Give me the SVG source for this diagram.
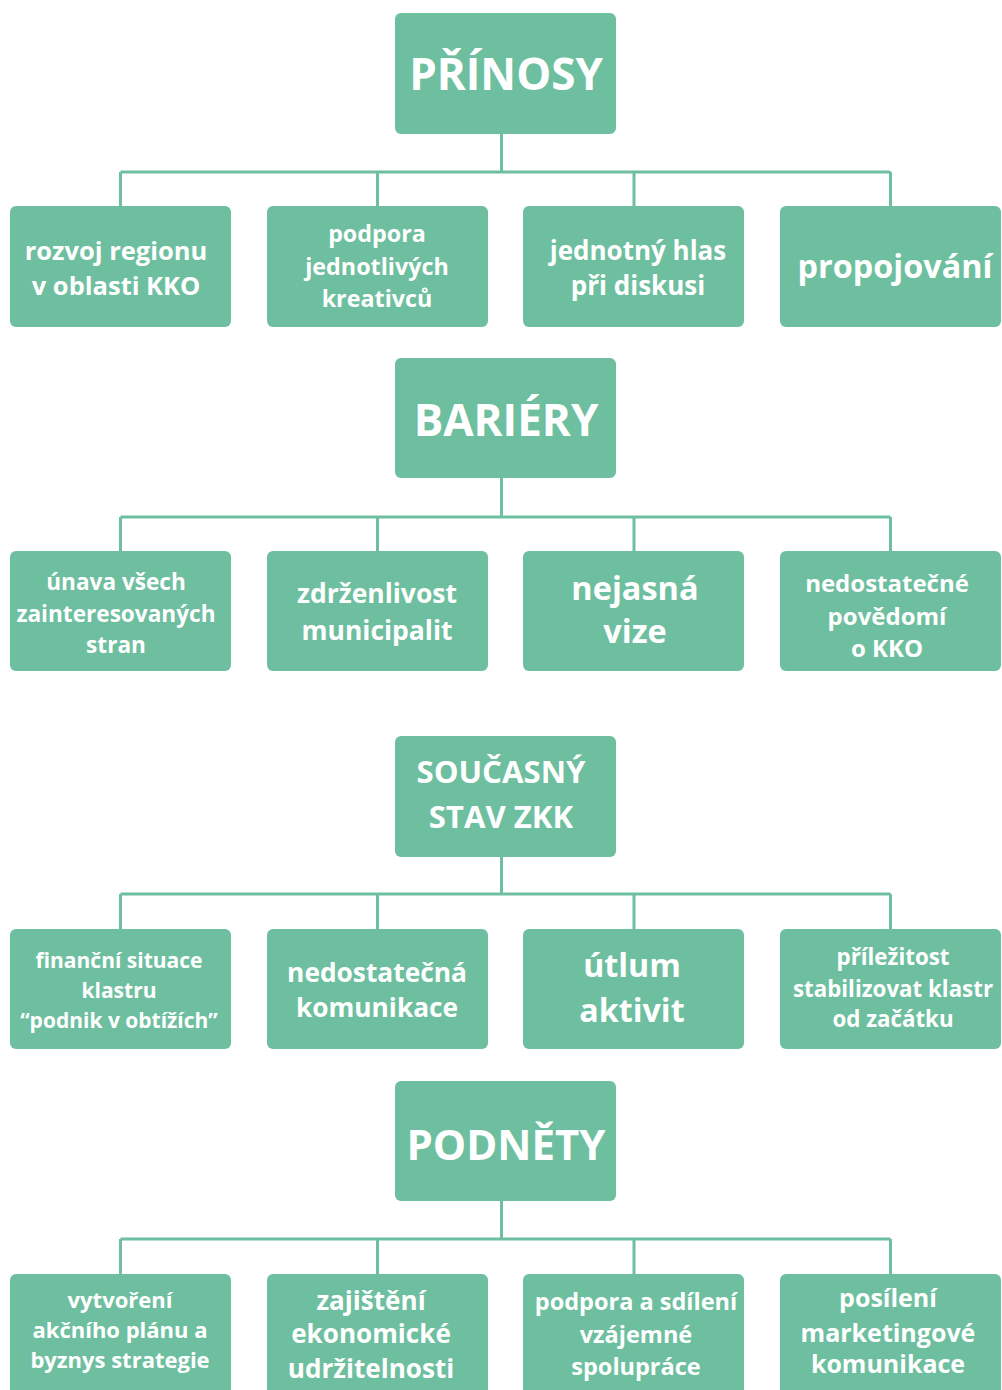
<svg xmlns="http://www.w3.org/2000/svg" width="1002" height="1390" viewBox="0 0 1002 1390">
<style>
.box{fill:#6ebfa0}
.t{font-family:"Open Sans","DejaVu Sans",sans-serif;font-weight:700;fill:#ffffff;text-anchor:middle}
.c{fill:none;stroke:#6ebfa0;stroke-width:3}
</style>
<rect width="1002" height="1390" fill="#ffffff"/>
<g id="connectors">
<path class="c" d="M501.5 134V172M120.5 172H890.5M120.5 172V206M377.5 172V206M634 172V206M890.5 172V206"/>
<path class="c" d="M501.5 478V517M120.5 517H890.5M120.5 517V551M377.5 517V551M634 517V551M890.5 517V551"/>
<path class="c" d="M501.5 857V894M120.5 894H890.5M120.5 894V929M377.5 894V929M634 894V929M890.5 894V929"/>
<path class="c" d="M501.5 1201V1239M120.5 1239H890.5M120.5 1239V1274M377.5 1239V1274M634 1239V1274M890.5 1239V1274"/>
</g>
<g id="prinosy"><rect class="box" x="395" y="13" width="221" height="121" rx="6"/><text class="t" x="506" y="90" font-size="44">PŘÍNOSY</text></g>
<g id="p1"><rect class="box" x="10" y="206" width="221" height="121" rx="6"/><text class="t" font-size="25.5"><tspan x="116" y="260">rozvoj regionu</tspan><tspan x="116" y="295">v oblasti KKO</tspan></text></g>
<g id="p2"><rect class="box" x="267" y="206" width="221" height="121" rx="6"/><text class="t" font-size="23.3"><tspan x="377" y="242">podpora</tspan><tspan x="377" y="275">jednotlivých</tspan><tspan x="377" y="307">kreativců</tspan></text></g>
<g id="p3"><rect class="box" x="523" y="206" width="221" height="121" rx="6"/><text class="t" font-size="26"><tspan x="638" y="260">jednotný hlas</tspan><tspan x="638" y="295">při diskusi</tspan></text></g>
<g id="p4"><rect class="box" x="780" y="206" width="221" height="121" rx="6"/><text class="t" x="895" y="278" font-size="32.4">propojování</text></g>

<g id="bariery"><rect class="box" x="395" y="358" width="221" height="120" rx="6"/><text class="t" x="506" y="436" font-size="44">BARIÉRY</text></g>
<g id="b1"><rect class="box" x="10" y="551" width="221" height="120" rx="6"/><text class="t" font-size="22.6"><tspan x="116" y="590">únava všech</tspan><tspan x="116" y="622">zainteresovaných</tspan><tspan x="116" y="653">stran</tspan></text></g>
<g id="b2"><rect class="box" x="267" y="551" width="221" height="120" rx="6"/><text class="t" font-size="26.5"><tspan x="377" y="603">zdrženlivost</tspan><tspan x="377" y="640">municipalit</tspan></text></g>
<g id="b3"><rect class="box" x="523" y="551" width="221" height="120" rx="6"/><text class="t" font-size="32.5"><tspan x="635" y="600">nejasná</tspan><tspan x="635" y="643">vize</tspan></text></g>
<g id="b4"><rect class="box" x="780" y="551" width="221" height="120" rx="6"/><text class="t" font-size="24"><tspan x="887" y="592">nedostatečné</tspan><tspan x="887" y="625">povědomí</tspan><tspan x="887" y="657">o KKO</tspan></text></g>

<g id="stav"><rect class="box" x="395" y="736" width="221" height="121" rx="6"/><text class="t" font-size="31.2"><tspan x="501" y="783">SOUČASNÝ</tspan><tspan x="501" y="828">STAV ZKK</tspan></text></g>
<g id="s1"><rect class="box" x="10" y="929" width="221" height="120" rx="6"/><text class="t" font-size="21"><tspan x="119" y="968">finanční situace</tspan><tspan x="119" y="998">klastru</tspan><tspan x="119" y="1028">“podnik v obtížích”</tspan></text></g>
<g id="s2"><rect class="box" x="267" y="929" width="221" height="120" rx="6"/><text class="t" font-size="26.3"><tspan x="377" y="982">nedostatečná</tspan><tspan x="377" y="1017">komunikace</tspan></text></g>
<g id="s3"><rect class="box" x="523" y="929" width="221" height="120" rx="6"/><text class="t" font-size="32.2"><tspan x="632" y="977">útlum</tspan><tspan x="632" y="1022">aktivit</tspan></text></g>
<g id="s4"><rect class="box" x="780" y="929" width="221" height="120" rx="6"/><text class="t" font-size="22.3"><tspan x="893" y="965">příležitost</tspan><tspan x="893" y="997">stabilizovat klastr</tspan><tspan x="893" y="1027">od začátku</tspan></text></g>

<g id="podnety"><rect class="box" x="395" y="1081" width="221" height="120" rx="6"/><text class="t" x="506" y="1160" font-size="42">PODNĚTY</text></g>
<g id="n1"><rect class="box" x="10" y="1274" width="221" height="122" rx="6"/><text class="t" font-size="22"><tspan x="120" y="1308">vytvoření</tspan><tspan x="120" y="1338">akčního plánu a</tspan><tspan x="120" y="1368">byznys strategie</tspan></text></g>
<g id="n2"><rect class="box" x="267" y="1274" width="221" height="122" rx="6"/><text class="t" font-size="26.1"><tspan x="371" y="1310">zajištění</tspan><tspan x="371" y="1343">ekonomické</tspan><tspan x="371" y="1378">udržitelnosti</tspan></text></g>
<g id="n3"><rect class="box" x="523" y="1274" width="221" height="122" rx="6"/><text class="t" font-size="23.5"><tspan x="636" y="1310">podpora a sdílení</tspan><tspan x="636" y="1343">vzájemné</tspan><tspan x="636" y="1375">spolupráce</tspan></text></g>
<g id="n4"><rect class="box" x="780" y="1274" width="221" height="122" rx="6"/><text class="t" font-size="25"><tspan x="888" y="1307">posílení</tspan><tspan x="888" y="1342">marketingové</tspan><tspan x="888" y="1373">komunikace</tspan></text></g>
</svg>
